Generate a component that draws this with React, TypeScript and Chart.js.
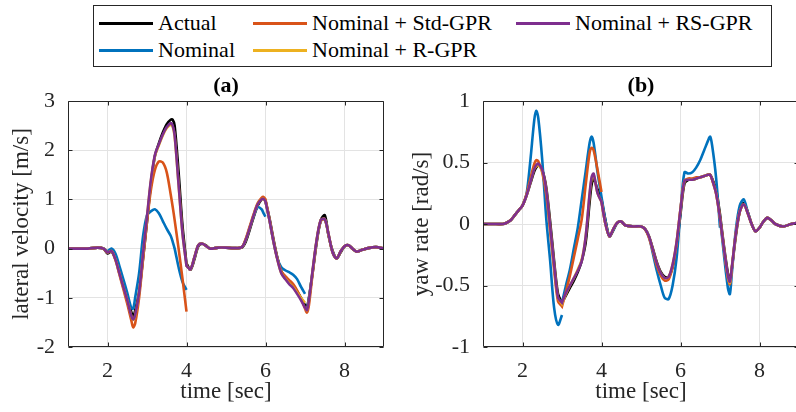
import React, { useEffect, useRef } from "react";
import { Chart, registerables } from "chart.js";
Chart.register(...registerables);

const SERIES_NAMES = ["Actual", "Nominal", "Nominal + Std-GPR", "Nominal + R-GPR", "Nominal + RS-GPR"];
const SERIES_COLORS = ["#000000", "#0072BD", "#D95319", "#EDB120", "#7E2F8E"];
const X_TICKS = [2, 4, 6, 8];
const Y_TICKS_A = [-2, -1, 0, 1, 2, 3];
const Y_TICKS_B = [-1, -0.5, 0, 0.5, 1];

// ---- (a) lateral velocity ----  (repeated times mark prediction restarts; null = break)
const TIME_A = [
  1.0, 1.25, 1.5, 1.75, 1.9, 2.0, 2.1, 2.2, 2.3, 2.4, 2.5, 2.6, 2.65, 2.7, 2.8, 2.9, 3.0, 3.1, 3.2, 3.3, 3.4, 3.5, 3.6, 3.65, 3.7, 3.8, 3.9, 4.0,
  4.0,
  4.0, 4.1, 4.2, 4.3, 4.4, 4.5, 4.6, 4.8, 5.0, 5.2, 5.4, 5.5, 5.6, 5.7, 5.8, 5.9, 5.95, 6.0,
  6.0,
  6.0, 6.1, 6.2, 6.3, 6.4, 6.5, 6.6, 6.7, 6.8, 6.9, 7.0,
  7.0,
  7.0, 7.05, 7.1, 7.2, 7.3, 7.4, 7.5, 7.6, 7.7, 7.8, 7.9, 8.0, 8.1, 8.2, 8.3, 8.4, 8.6, 8.8, 9.0,
];
const ACTUAL_A = [
  0, 0, 0, 0.02, 0, -0.1, -0.06, -0.2, -0.45, -0.7, -0.98, -1.28, -1.38, -1.26, -0.88, -0.2, 0.55, 1.32, 1.88, 2.14, 2.36, 2.53, 2.62, 2.62, 2.5, 1.55, 0.45, -0.3,
  -0.3,
  -0.3, -0.43, -0.22, 0.05, 0.1, 0.06, 0.0, 0.02, 0.02, 0.01, 0.02, 0.14, 0.38, 0.64, 0.87, 1.0, 1.02, 0.97,
  0.97,
  0.97, 0.62, 0.2, -0.18, -0.46, -0.6, -0.68, -0.76, -0.87, -1.0, -1.15,
  -1.15,
  -1.15, -1.18, -1.0, -0.45, 0.15, 0.58, 0.68, 0.25, -0.05, -0.2, -0.08, 0.04, 0.07, 0.0, -0.06, -0.04, 0.01, 0.03, 0.0,
];
const NOMINAL_A = [
  0, 0, 0, 0.02, 0, -0.05, 0.0, -0.1, -0.35, -0.62, -0.9, -1.2, -1.22, -1.0, -0.5, 0.25, 0.68, 0.76, 0.8, 0.72, 0.56, 0.4, 0.26, 0.14, 0.0, -0.38, -0.68, -0.84,
  null,
  -0.35, -0.42, -0.18, 0.07, 0.1, 0.05, 0.0, 0.02, 0.02, 0.01, 0.03, 0.18, 0.42, 0.66, 0.84, 0.8, 0.72, 0.65,
  null,
  0.96, 0.58, 0.15, -0.2, -0.38, -0.44, -0.48, -0.53, -0.62, -0.78, -0.92,
  null,
  -1.2, -1.22, -1.02, -0.42, 0.18, 0.56, 0.6, 0.26, -0.08, -0.2, -0.06, 0.05, 0.07, 0.0, -0.06, -0.04, 0.01, 0.03, 0.0,
];
const STD_GPR_A = [
  0, 0, 0, 0.02, 0, -0.08, -0.05, -0.23, -0.52, -0.82, -1.12, -1.45, -1.6, -1.52, -1.0, -0.22, 0.55, 1.2, 1.6, 1.77, 1.75, 1.55, 1.1, 0.85, 0.58, 0.0, -0.62, -1.28,
  null,
  -0.35, -0.42, -0.18, 0.07, 0.1, 0.05, 0.0, 0.02, 0.02, 0.01, 0.03, 0.2, 0.45, 0.7, 0.92, 1.03, 1.05, 1.0,
  1.0,
  1.0, 0.6, 0.17, -0.2, -0.46, -0.56, -0.64, -0.72, -0.85, -1.02, -1.22,
  -1.22,
  -1.22, -1.3, -1.15, -0.45, 0.18, 0.56, 0.6, 0.26, -0.08, -0.2, -0.06, 0.05, 0.07, 0.0, -0.06, -0.04, 0.01, 0.03, 0.0,
];
const R_GPR_A = [
  0, 0, 0, 0.02, 0, -0.08, -0.05, -0.22, -0.5, -0.78, -1.05, -1.36, -1.45, -1.36, -0.9, -0.12, 0.64, 1.38, 1.88, 2.1, 2.3, 2.45, 2.52, 2.48, 2.28, 1.3, 0.3, -0.35,
  -0.35,
  -0.35, -0.42, -0.18, 0.07, 0.1, 0.05, 0.0, 0.02, 0.02, 0.01, 0.03, 0.18, 0.42, 0.68, 0.9, 1.0, 1.01, 0.96,
  0.96,
  0.96, 0.58, 0.15, -0.22, -0.5, -0.61, -0.7, -0.78, -0.9, -1.0, -1.1,
  null,
  -1.2, -1.25, -1.05, -0.4, 0.2, 0.58, 0.6, 0.28, -0.08, -0.2, -0.06, 0.05, 0.07, 0.0, -0.06, -0.04, 0.01, 0.03, 0.0,
];
const RS_GPR_A = [
  0, 0, 0, 0.02, 0, -0.08, -0.05, -0.22, -0.5, -0.78, -1.05, -1.36, -1.44, -1.35, -0.9, -0.1, 0.65, 1.4, 1.9, 2.12, 2.32, 2.47, 2.55, 2.5, 2.3, 1.3, 0.3, -0.35,
  -0.35,
  -0.35, -0.42, -0.18, 0.07, 0.1, 0.05, 0.0, 0.02, 0.02, 0.01, 0.03, 0.18, 0.42, 0.68, 0.9, 1.0, 1.01, 0.96,
  0.96,
  0.96, 0.58, 0.15, -0.22, -0.5, -0.62, -0.72, -0.8, -0.92, -1.05, -1.2,
  -1.2,
  -1.2, -1.25, -1.05, -0.4, 0.2, 0.58, 0.6, 0.28, -0.08, -0.2, -0.06, 0.05, 0.07, 0.0, -0.06, -0.04, 0.01, 0.03, 0.0,
];

// ---- (b) yaw rate ----
const TIME_B = [
  1.0, 1.25, 1.5, 1.6, 1.7, 1.8, 1.9, 2.0, 2.1, 2.2, 2.3, 2.35, 2.4, 2.5, 2.6, 2.7, 2.8, 2.9, 3.0,
  3.0,
  3.0, 3.1, 3.2, 3.3, 3.4, 3.5, 3.6, 3.7, 3.75, 3.8, 3.9, 4.0,
  4.0,
  4.0, 4.1, 4.2, 4.3, 4.4, 4.5, 4.6, 4.8, 5.0, 5.1, 5.2, 5.3, 5.4, 5.5, 5.6, 5.7, 5.8, 5.9, 6.0, 6.1, 6.2, 6.3, 6.4, 6.5, 6.6, 6.7, 6.75, 6.8, 6.9, 7.0,
  7.0,
  7.0, 7.1, 7.2, 7.25, 7.3, 7.4, 7.5, 7.6, 7.7, 7.8, 7.9, 8.0, 8.1, 8.2, 8.3, 8.4, 8.6, 8.8, 9.0,
];
const ACTUAL_B = [
  0, 0, 0, 0.01, 0.03, 0.07, 0.11, 0.15, 0.23, 0.33, 0.43, 0.46, 0.48, 0.44, 0.3, 0.02, -0.3, -0.57, -0.64,
  -0.64,
  -0.64, -0.58, -0.52, -0.46, -0.39, -0.3, -0.15, 0.18, 0.32, 0.37, 0.28, 0.2,
  0.2,
  0.2, 0.03, -0.1, -0.05, 0.01, 0.02, -0.01, -0.02, -0.02, -0.04, -0.1, -0.2, -0.31, -0.39, -0.43, -0.43, -0.35, -0.18, 0.08, 0.33, 0.36, 0.36, 0.37, 0.38, 0.39, 0.4, 0.4, 0.37, 0.28, 0.08,
  0.08,
  0.08, -0.18, -0.4, -0.46, -0.36, -0.1, 0.1, 0.17, 0.1, 0.0, -0.06, -0.03, 0.02, 0.05, 0.03, 0.0, -0.02, 0.0, 0.01,
];
const NOMINAL_B = [
  0, 0, 0, 0.01, 0.03, 0.07, 0.11, 0.15, 0.24, 0.52, 0.85, 0.92, 0.86, 0.52, 0.05, -0.3, -0.68, -0.82, -0.74,
  null,
  -0.64, -0.5, -0.37, -0.2, -0.03, 0.2, 0.43, 0.66, 0.71, 0.66, 0.42, 0.22,
  0.22,
  0.22, 0.03, -0.1, -0.05, 0.01, 0.02, -0.01, -0.02, -0.02, -0.04, -0.1, -0.24, -0.38, -0.5, -0.6, -0.61, -0.5, -0.28, 0.1, 0.42, 0.41, 0.42, 0.46, 0.52, 0.6, 0.68, 0.71, 0.64, 0.38, -0.03,
  null,
  0.05, -0.25, -0.52, -0.57, -0.4, -0.05, 0.15, 0.2, 0.1, 0.0, -0.06, -0.03, 0.02, 0.05, 0.03, 0.0, -0.02, 0.0, 0.01,
];
const STD_GPR_B = [
  0, 0, 0, 0.01, 0.03, 0.07, 0.11, 0.15, 0.24, 0.37, 0.49, 0.52, 0.51, 0.42, 0.24, -0.06, -0.37, -0.63, -0.67,
  -0.67,
  -0.67, -0.55, -0.42, -0.27, -0.12, 0.04, 0.32, 0.58, 0.62, 0.6, 0.44, 0.26,
  null,
  0.18, 0.0, -0.1, -0.04, 0.01, 0.02, -0.01, -0.02, -0.02, -0.04, -0.11, -0.22, -0.34, -0.42, -0.46, -0.45, -0.35, -0.16, 0.12, 0.35, 0.37, 0.37, 0.38, 0.38, 0.39, 0.4, 0.4, 0.36, 0.25, 0.05,
  0.05,
  0.05, -0.2, -0.44, -0.49, -0.36, -0.08, 0.1, 0.16, 0.09, 0.0, -0.06, -0.03, 0.02, 0.05, 0.03, 0.0, -0.02, 0.0, 0.01,
];
const R_GPR_B = [
  0, 0, 0, 0.01, 0.03, 0.07, 0.11, 0.15, 0.23, 0.34, 0.45, 0.47, 0.48, 0.43, 0.28, -0.02, -0.33, -0.6, -0.65,
  -0.65,
  -0.65, -0.57, -0.5, -0.44, -0.37, -0.29, -0.1, 0.24, 0.37, 0.4, 0.25, 0.18,
  0.18,
  0.18, 0.0, -0.1, -0.04, 0.01, 0.02, -0.01, -0.02, -0.02, -0.04, -0.1, -0.21, -0.32, -0.4, -0.44, -0.43, -0.33, -0.15, 0.12, 0.35, 0.36, 0.36, 0.37, 0.38, 0.39, 0.4, 0.4, 0.36, 0.25, 0.05,
  0.05,
  0.05, -0.2, -0.43, -0.48, -0.35, -0.08, 0.1, 0.16, 0.09, 0.0, -0.06, -0.03, 0.02, 0.05, 0.03, 0.0, -0.02, 0.0, 0.01,
];
const RS_GPR_B = [
  0, 0, 0, 0.01, 0.03, 0.07, 0.11, 0.15, 0.23, 0.34, 0.45, 0.48, 0.49, 0.44, 0.28, -0.02, -0.33, -0.6, -0.64,
  -0.64,
  -0.64, -0.56, -0.5, -0.44, -0.38, -0.3, -0.1, 0.25, 0.38, 0.41, 0.25, 0.18,
  0.18,
  0.18, 0.0, -0.1, -0.04, 0.01, 0.02, -0.01, -0.02, -0.02, -0.04, -0.1, -0.21, -0.32, -0.4, -0.44, -0.43, -0.33, -0.15, 0.12, 0.35, 0.36, 0.36, 0.37, 0.38, 0.39, 0.4, 0.4, 0.36, 0.25, 0.05,
  0.05,
  0.05, -0.2, -0.42, -0.47, -0.35, -0.08, 0.1, 0.16, 0.09, 0.0, -0.06, -0.03, 0.02, 0.05, 0.03, 0.0, -0.02, 0.0, 0.01,
];

const FONT = "'Liberation Serif', 'Times New Roman', serif";
const AXIS_COLOR = "#262626";
const GRID_COLOR = "#e3e3e3";

const framePlugin = {
  id: "matlabFrame",
  afterDatasetsDraw(chart: any) {
    const { ctx, chartArea: a, scales } = chart;
    const L = Math.round(a.left) + 0.5;
    const R = Math.round(a.right) - 0.5;
    const T = Math.round(a.top) + 0.5;
    const B = Math.round(a.bottom) - 0.5;
    ctx.save();
    ctx.strokeStyle = AXIS_COLOR;
    ctx.lineWidth = 1;
    ctx.beginPath();
    ctx.rect(L, T, R - L, B - T);
    const tl = 4;
    scales.x.ticks.forEach((t: any) => {
      const px = Math.round(scales.x.getPixelForValue(t.value)) + 0.5;
      ctx.moveTo(px, B);
      ctx.lineTo(px, B - tl);
      ctx.moveTo(px, T);
      ctx.lineTo(px, T + tl);
    });
    scales.y.ticks.forEach((t: any) => {
      const py = Math.round(scales.y.getPixelForValue(t.value)) + 0.5;
      ctx.moveTo(L, py);
      ctx.lineTo(L + tl, py);
      ctx.moveTo(R, py);
      ctx.lineTo(R - tl, py);
    });
    ctx.stroke();
    ctx.restore();
  },
};

function makeConfig(
  time: number[],
  series: (number | null)[][],
  title: string,
  yLabel: string,
  yMin: number,
  yMax: number,
  yTicks: number[],
  yWidth: number,
  yTitlePad: number,
  rightPad: number
): any {
  const datasets = series.map((vals, i) => ({
    label: SERIES_NAMES[i],
    data: time.map((t, k) => ({ x: t, y: vals[k] })),
    borderColor: SERIES_COLORS[i],
    backgroundColor: SERIES_COLORS[i],
    borderWidth: 2.6,
    pointRadius: 0,
    tension: 0.3,
    spanGaps: false,
    order: series.length - 1 - i,
  }));
  return {
    type: "line",
    data: { datasets },
    options: {
      responsive: false,
      animation: false,
      events: [],
      layout: { padding: { top: 70, left: 0, right: rightPad, bottom: 0 } },
      plugins: {
        legend: { display: false },
        tooltip: { enabled: false },
        title: {
          display: true,
          text: title,
          fullSize: false,
          color: "#000",
          font: { family: FONT, size: 22, weight: "bold" },
          padding: { top: 3, bottom: 1.6 },
        },
      },
      scales: {
        x: {
          type: "linear",
          min: 1,
          max: 9,
          afterBuildTicks: (s: any) => {
            s.ticks = X_TICKS.map((v) => ({ value: v }));
          },
          afterFit: (s: any) => {
            s.height = 65;
          },
          ticks: {
            autoSkip: false,
            maxRotation: 0,
            padding: 11,
            color: AXIS_COLOR,
            font: { family: FONT, size: 22 },
            callback: (v: any) => String(v),
          },
          grid: { color: GRID_COLOR, drawTicks: false },
          border: { display: false },
          title: {
            display: true,
            text: "time [sec]",
            color: AXIS_COLOR,
            font: { family: FONT, size: 23 },
            padding: { top: 0, bottom: 6 },
          },
        },
        y: {
          type: "linear",
          min: yMin,
          max: yMax,
          afterBuildTicks: (s: any) => {
            s.ticks = yTicks.map((v) => ({ value: v }));
          },
          afterFit: (s: any) => {
            s.width = yWidth;
          },
          ticks: {
            autoSkip: false,
            padding: 13,
            color: AXIS_COLOR,
            font: { family: FONT, size: 22 },
            callback: (v: any) => String(v),
          },
          grid: { color: GRID_COLOR, drawTicks: false },
          border: { display: false },
          title: {
            display: true,
            text: yLabel,
            color: AXIS_COLOR,
            font: { family: FONT, size: 23 },
            padding: { top: yTitlePad, bottom: 0 },
          },
        },
      },
    },
    plugins: [framePlugin],
  };
}

const LEGEND_COL_X = [5, 159, 422];
const LEGEND_ROW_Y = [17, 44];

export default function App() {
  const refA = useRef<HTMLCanvasElement | null>(null);
  const refB = useRef<HTMLCanvasElement | null>(null);

  useEffect(() => {
    document.body.style.margin = "0";
    const a = new Chart(
      refA.current as HTMLCanvasElement,
      makeConfig(TIME_A, [ACTUAL_A, NOMINAL_A, STD_GPR_A, R_GPR_A, RS_GPR_A], "(a)", "lateral velocity [m/s]", -2, 3, Y_TICKS_A, 68, 8, 14)
    );
    const b = new Chart(
      refB.current as HTMLCanvasElement,
      makeConfig(TIME_B, [ACTUAL_B, NOMINAL_B, STD_GPR_B, R_GPR_B, RS_GPR_B], "(b)", "yaw rate [rad/s]", -1, 1, Y_TICKS_B, 85, 10, 3)
    );
    return () => {
      a.destroy();
      b.destroy();
    };
  }, []);

  return (
    <div style={{ position: "absolute", left: 0, top: 0, width: 796, height: 412, overflow: "hidden", background: "#fff" }}>
      <canvas ref={refA} width={398} height={412} style={{ position: "absolute", left: 0, top: 0, width: 398, height: 412 }} />
      <canvas ref={refB} width={404} height={412} style={{ position: "absolute", left: 398, top: 0, width: 404, height: 412 }} />
      <div
        style={{
          position: "absolute",
          left: 93,
          top: 5,
          width: 677,
          height: 60,
          border: "1px solid #262626",
          background: "#fff",
          fontFamily: FONT,
          fontSize: 22,
          color: "#000",
        }}
      >
        {SERIES_NAMES.map((name, i) => {
          const col = Math.floor(i / 2);
          const row = i % 2;
          const x = LEGEND_COL_X[col];
          const y = LEGEND_ROW_Y[row];
          return (
            <React.Fragment key={name}>
              <div style={{ position: "absolute", left: x, top: y - 1.5, width: 54, height: 3, background: SERIES_COLORS[i] }} />
              <div style={{ position: "absolute", left: x + 59, top: y - 13, height: 26, lineHeight: "26px", whiteSpace: "nowrap" }}>{name}</div>
            </React.Fragment>
          );
        })}
      </div>
    </div>
  );
}
